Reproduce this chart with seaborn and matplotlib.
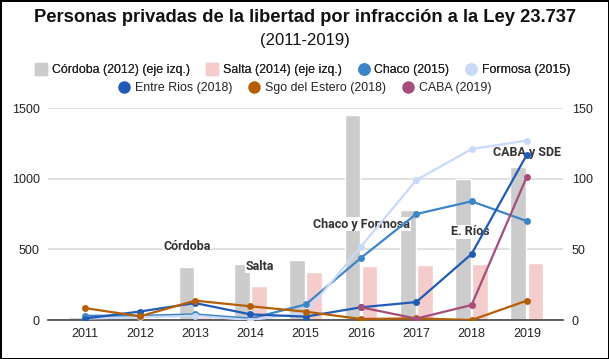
import pandas as pd
import seaborn as sns
import matplotlib.pyplot as plt
from matplotlib.lines import Line2D
import numpy as np

years = ["2011", "2012", "2013", "2014", "2015", "2016", "2017", "2018", "2019"]

# bars, left axis
cordoba = [20, 20, 375, 398, 425, 1450, 778, 996, 1080]
salta = [45, 17, 20, 240, 337, 382, 389, 396, 403]

# lines, right axis
chaco = [3, 3, 4, 1, 11, 44, 75, 84, 70]
formosa = [1, 2, 3, 0, 5, 52, 99, 121, 127]
entre_rios = [1, 6, 12, 4, 2.4, 9, 12.7, 46.7, 117]
sgo_estero = [8.5, 2.6, 13.7, 9.7, 5.9, 0.7, 1.2, 0, 13.7]
caba = [np.nan, np.nan, np.nan, np.nan, np.nan, 9, 1, 10.6, 101.4]

bar_names = ["Córdoba (2012) (eje izq.)", "Salta (2014) (eje izq.)"]
line_names = ["Chaco (2015)", "Formosa (2015)", "Entre Rios (2018)",
              "Sgo del Estero (2018)", "CABA (2019)"]
bar_colors = ["#cccccc", "#f4cccc"]
line_colors = ["#3d85c6", "#c9daf8", "#1f5bb5", "#b45f06", "#a64d79"]

sns.set_theme(style="white")
plt.rcParams["font.family"] = ["Liberation Sans", "DejaVu Sans"]

df_bars = pd.DataFrame({
    "year": years * 2,
    "value": cordoba + salta,
    "serie": [bar_names[0]] * 9 + [bar_names[1]] * 9,
})
line_vals = [chaco, formosa, entre_rios, sgo_estero, caba]
df_lines = pd.DataFrame({
    "pos": list(range(9)) * 5,
    "value": sum([list(v) for v in line_vals], []),
    "serie": sum([[n] * 9 for n in line_names], []),
}).dropna()

fig = plt.figure(figsize=(6.09, 3.59), dpi=100)
fig.patch.set_edgecolor("black")
fig.patch.set_linewidth(2)
ax = fig.add_axes([0.079, 0.1086, 0.846, 0.5904])

sns.barplot(data=df_bars, x="year", y="value", hue="serie", palette=bar_colors,
            width=0.62, gap=0.08, ax=ax, legend=False, saturation=1)
ax.set_ylim(0, 1500)
ax.set_yticks([0, 500, 1000, 1500])
ax.yaxis.grid(True, color="#e0e0e0", linewidth=1.4)
ax.set_axisbelow(True)
for s in ["top", "left", "right"]:
    ax.spines[s].set_visible(False)
ax.spines["bottom"].set_color("#444444")
ax.spines["bottom"].set_linewidth(1.2)
ax.set_xlabel("")
ax.set_ylabel("")

ax2 = ax.twinx()
sns.lineplot(data=df_lines, x="pos", y="value", hue="serie",
             palette=dict(zip(line_names, line_colors)), hue_order=line_names,
             marker="o", markersize=5, markeredgewidth=0, linewidth=1.6,
             ax=ax2, legend=False)
ax2.set_ylim(0, 150)
ax2.set_yticks([0, 50, 100, 150])
for s in ax2.spines.values():
    s.set_visible(False)
ax2.set_xlabel("")
ax2.set_ylabel("")

ax.set_xticks(range(9))
ax.set_xticklabels(years)
ax.set_xlim(-0.66, 8.66)
ax.tick_params(axis="both", length=0, labelsize=9, colors="#222222", pad=6)
ax2.tick_params(axis="y", length=0, labelsize=9, colors="#222222", pad=6)

# annotations
notes = [("Córdoba", 1.85, 517), ("Salta", 3.17, 382), ("Chaco y Formosa", 5.01, 679),
         ("E. Ríos", 6.97, 623), ("CABA y SDE", 8.0, 1182)]
for txt, x, y in notes:
    ax.text(x, y, txt, ha="center", va="center", fontsize=9, fontweight="bold",
            color="#333333", family=["Roboto", "DejaVu Sans"], zorder=5,
            bbox=dict(facecolor="white", edgecolor="none", pad=0.5))

fig.text(0.5, 1 - 17 / 359, "Personas privadas de la libertad por infracción a la Ley 23.737",
         ha="center", va="center", fontsize=13.2, fontweight="bold", color="#111111")
fig.text(0.5, 1 - 41 / 359, "(2011-2019)", ha="center", va="center",
         fontsize=12, color="#111111")

h1 = [Line2D([], [], marker="s", linestyle="", markersize=8.6, color=c) for c in bar_colors]
h1 += [Line2D([], [], marker="o", linestyle="", markersize=8, color=c) for c in line_colors[:2]]
h2 = [Line2D([], [], marker="o", linestyle="", markersize=8, color=c) for c in line_colors[2:]]
kw = dict(loc="center", frameon=False, fontsize=8.9, handletextpad=0.35,
          columnspacing=1.3, handlelength=1.0, labelcolor="#222222")
leg1 = fig.legend(h1, bar_names + line_names[:2], bbox_to_anchor=(0.497, 1 - 70 / 359),
                  ncol=4, **kw)
leg2 = fig.legend(h2, line_names[2:], bbox_to_anchor=(0.5, 1 - 88 / 359), ncol=3, **kw)
fig.add_artist(leg1)

fig.savefig("out.png", dpi=100, edgecolor=fig.get_edgecolor())
